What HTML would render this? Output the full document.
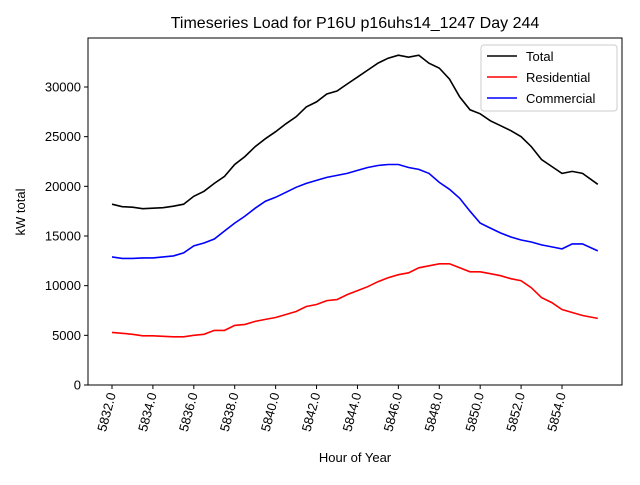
<!DOCTYPE html>
<html><head><meta charset="utf-8"><style>
body{margin:0;background:#fff;}
svg{font-family:"Liberation Sans","DejaVu Sans",sans-serif;}
</style></head><body>
<svg id="chart" width="640" height="480">
<rect x="0" y="0" width="640" height="480" fill="#fff"/>
<text x="355" y="28" font-size="16" text-anchor="middle">Timeseries Load for P16U p16uhs14_1247  Day 244</text>
<g id="plot"></g>
<text x="355" y="462" font-size="13" text-anchor="middle">Hour of Year</text>
<text x="0" y="0" font-size="13" text-anchor="middle" transform="translate(25,212) rotate(-90)">kW total</text>
</svg>
<script>
const hours=[5832,5832.5,5833,5833.5,5834,5834.5,5835,5835.5,5836,5836.5,5837,5837.5,5838,5838.5,5839,5839.5,5840,5840.5,5841,5841.5,5842,5842.5,5843,5843.5,5844,5844.5,5845,5845.5,5846,5846.5,5847,5847.5,5848,5848.5,5849,5849.5,5850,5850.5,5851,5851.5,5852,5852.5,5853,5853.5,5854,5854.5,5855,5855.75];
const total=[18200,17950,17900,17750,17800,17850,18000,18200,19000,19500,20300,21000,22200,23000,24000,24800,25500,26300,27000,28000,28500,29300,29600,30300,31000,31700,32400,32900,33200,33000,33200,32400,31900,30800,29000,27700,27300,26600,26100,25600,25000,24000,22700,22000,21300,21500,21300,20200];
const residential=[5300,5200,5100,4950,4950,4900,4850,4850,5000,5100,5500,5500,6000,6100,6400,6600,6800,7100,7400,7900,8100,8500,8600,9100,9500,9900,10400,10800,11100,11300,11800,12000,12200,12200,11800,11400,11400,11200,11000,10700,10500,9800,8800,8300,7600,7300,7000,6700];
const commercial=[12900,12750,12750,12800,12800,12900,13000,13300,14000,14300,14700,15500,16300,17000,17800,18500,18900,19400,19900,20300,20600,20900,21100,21300,21600,21900,22100,22200,22200,21900,21700,21300,20400,19700,18800,17500,16300,15800,15300,14900,14600,14400,14100,13900,13700,14200,14200,13500];
const yTicks=[0,5000,10000,15000,20000,25000,30000];
const xTicks=[5832,5834,5836,5838,5840,5842,5844,5846,5848,5850,5852,5854];
const seriesNames=["Total","Residential","Commercial"];
const seriesColors=["#000","#f00","#00f"];

const L=88,R=622,T=38,B=385;
const xs=h=>112+(h-5832)*(450/22);
const ys=v=>385-v*(298/30000);
const NS="http://www.w3.org/2000/svg";
const g=document.getElementById('plot');
function mk(t,a){const e=document.createElementNS(NS,t);for(const k in a)e.setAttribute(k,a[k]);g.appendChild(e);return e;}

yTicks.forEach(v=>{
  const y=ys(v);
  const tk=mk('line',{x1:L-4,x2:L,y1:y,y2:y,stroke:'#000'});
  
  
  const t=mk('text',{x:L-7,y:y+4.5,'font-size':13,'text-anchor':'end'});
  t.textContent=v;
  
  
});
xTicks.forEach(h=>{
  const x=xs(h);
  const tk=mk('line',{x1:x,x2:x,y1:B,y2:B+4,stroke:'#000'});
  
  
  const t=mk('text',{x:0,y:0,'font-size':13,'text-anchor':'end',transform:`translate(${x+4},${B+9}) rotate(-75)`});
  t.textContent=h.toFixed(1);
  
  
});
[total,residential,commercial].forEach((arr,i)=>{
  const d=arr.map((v,j)=>(j?'L':'M')+xs(hours[j]).toFixed(1)+','+ys(v).toFixed(1)).join('');
  const p=mk('path',{d:d,fill:'none',stroke:seriesColors[i],'stroke-width':1.6});
  
  
});
const frame=mk('rect',{x:L,y:T,width:R-L,height:B-T,fill:'none',stroke:'#000','stroke-width':1});


const lg=mk('rect',{x:481,y:45,width:136,height:66,fill:'#fff',stroke:'#ccc',rx:3});


seriesNames.forEach((n,i)=>{
  const y=56+i*21;
  const l=mk('line',{x1:487,x2:517,y1:y,y2:y,stroke:seriesColors[i],'stroke-width':1.6});
  
  
  const t=mk('text',{x:526,y:y+5,'font-size':13});
  t.textContent=n;
  
  
});
</script>
</body></html>
